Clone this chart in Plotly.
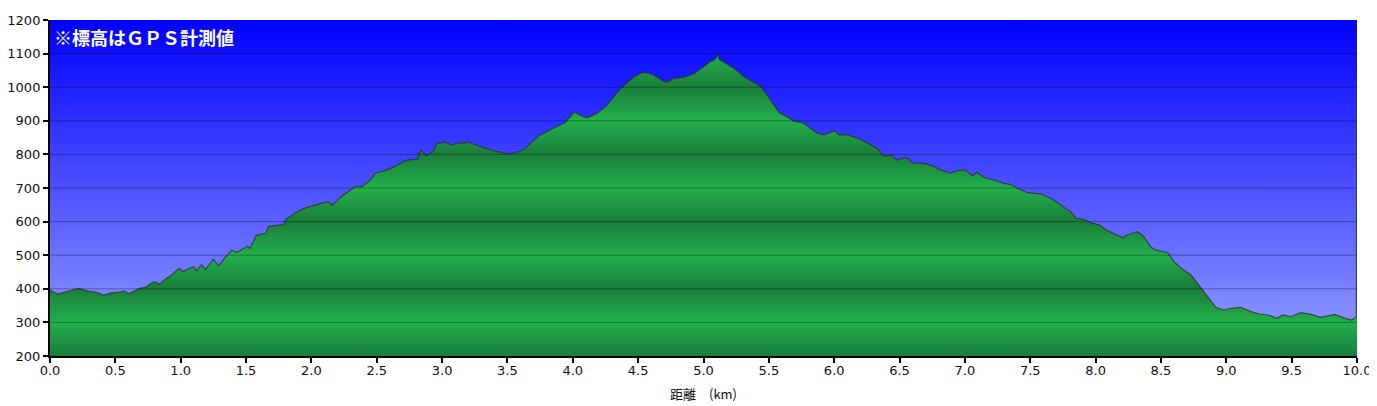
import plotly.graph_objects as go

# elevation profile
distance_km = [
    0.00, 0.06, 0.13, 0.22, 0.29, 0.35, 0.41, 0.47, 0.53, 0.57, 0.60, 0.64, 0.68, 0.73, 0.77, 0.80,
    0.84, 0.88, 0.93, 0.99, 1.02, 1.06, 1.10, 1.12, 1.16, 1.19, 1.25, 1.29, 1.33, 1.39, 1.43, 1.48,
    1.51, 1.53, 1.58, 1.65, 1.67, 1.72, 1.79, 1.80, 1.85, 1.89, 1.95, 2.02, 2.08, 2.13, 2.16, 2.22,
    2.28, 2.335, 2.39, 2.45, 2.49, 2.58, 2.64, 2.73, 2.81, 2.84, 2.88, 2.93, 2.96, 3.02, 3.075, 3.11,
    3.20, 3.27, 3.32, 3.37, 3.445, 3.51, 3.56, 3.62, 3.68, 3.75, 3.82, 3.88, 3.94, 3.98, 4.01, 4.06,
    4.11, 4.185, 4.25, 4.30, 4.36, 4.42, 4.47, 4.53, 4.58, 4.62, 4.66, 4.70, 4.73, 4.77, 4.85, 4.93,
    5.00, 5.05, 5.08, 5.10, 5.105, 5.12, 5.17, 5.245, 5.31, 5.36, 5.41, 5.44, 5.51, 5.58, 5.63, 5.69,
    5.76, 5.82, 5.87, 5.92, 6.00, 6.04, 6.10, 6.18, 6.25, 6.33, 6.38, 6.44, 6.48, 6.55, 6.60, 6.69,
    6.76, 6.81, 6.89, 6.94, 7.00, 7.06, 7.09, 7.16, 7.22, 7.30, 7.36, 7.40, 7.48, 7.58, 7.66, 7.70,
    7.76, 7.81, 7.85, 7.91, 7.96, 8.03, 8.09, 8.16, 8.21, 8.24, 8.32, 8.37, 8.42, 8.46, 8.55, 8.60,
    8.665, 8.73, 8.79, 8.86, 8.92, 8.98, 9.035, 9.11, 9.19, 9.25, 9.32, 9.39, 9.43, 9.49, 9.57, 9.65,
    9.72, 9.83, 9.91, 9.96, 9.995, 10.0,
]
elevation_m = [
    396, 384, 392, 401, 393, 390, 381, 388, 390, 393, 386, 392, 401, 404, 416, 421,
    414, 428, 441, 461, 451, 460, 466, 454, 471, 458, 488, 468, 488, 515, 508, 520,
    527, 520, 560, 565, 585, 588, 592, 605, 618, 629, 640, 649, 655, 659, 649, 672,
    688, 704, 704, 724, 744, 754, 765, 783, 786, 815, 795, 808, 833, 836, 828, 833,
    836, 828, 820, 813, 806, 801, 805, 813, 835, 858, 872, 884, 895, 912, 927, 916,
    909, 922, 942, 965, 994, 1015, 1031, 1044, 1042, 1036, 1025, 1016, 1016, 1026, 1029, 1041,
    1061, 1076, 1081, 1089, 1102, 1083, 1071, 1053, 1031, 1020, 1010, 1002, 964, 924, 914, 899,
    894, 878, 863, 858, 870, 858, 858, 848, 833, 818, 795, 798, 783, 791, 775, 773,
    765, 754, 744, 751, 754, 736, 747, 729, 724, 714, 709, 699, 686, 682, 669, 659,
    644, 629, 610, 607, 597, 590, 573, 560, 552, 560, 570, 555, 525, 515, 508, 481,
    458, 441, 411, 377, 345, 337, 342, 345, 332, 325, 322, 312, 322, 317, 329, 324,
    315, 324, 312, 307, 317, 1200,
]

x_ticks = [i * 0.5 for i in range(21)]
x_labels = [f"{v:.1f}" for v in x_ticks]
y_ticks = list(range(200, 1300, 100))

Y_MIN, Y_MAX = 200, 1200
X_MAX = 10.0

DARK_GREEN = "#1a7d3a"
LIGHT_GREEN = "#23b04c"

# banded green: dark at even hundreds, light at odd hundreds
green_scale = []
for i, v in enumerate(y_ticks):
    green_scale.append([(v - Y_MIN) / (Y_MAX - Y_MIN), DARK_GREEN if i % 2 == 0 else LIGHT_GREEN])

fig = go.Figure()

# sky gradient background
fig.add_trace(go.Scatter(
    x=[0, X_MAX], y=[Y_MAX, Y_MAX], mode="lines", line=dict(width=0),
    fill="tozeroy", hoverinfo="skip", showlegend=False,
    fillgradient=dict(type="vertical", start=Y_MIN, stop=Y_MAX,
                      colorscale=[[0, "#98a2ff"], [1, "#0000ff"]]),
))

fig.add_trace(go.Scatter(
    x=distance_km, y=elevation_m, mode="lines",
    line=dict(color="rgba(45,45,45,0.75)", width=1.2),
    fill="tozeroy", showlegend=False,
    fillgradient=dict(type="vertical", start=Y_MIN, stop=Y_MAX, colorscale=green_scale),
))

for v in y_ticks[1:-1]:
    fig.add_hline(y=v, line=dict(color="rgba(0,0,0,0.32)", width=1), layer="above")

fig.add_annotation(text="<b>※標高はＧＰＳ計測値</b>", xref="paper", yref="paper", x=0, y=1,
                   xanchor="left", yanchor="top", xshift=2, yshift=-2, showarrow=False,
                   font=dict(family="Noto Sans CJK JP", size=18, color="white"))

# page body has an 8px margin, so the figure is sized/margined to land where the original does
fig.update_layout(
    width=1369, height=398,
    margin=dict(l=42, r=20, t=12, b=50),
    paper_bgcolor="white", plot_bgcolor="white",
    font=dict(family="DejaVu Sans", size=13, color="#111111"),
    xaxis=dict(range=[0, X_MAX], tickvals=x_ticks, ticktext=x_labels, showgrid=False,
               zeroline=False, showline=True, linecolor="black", linewidth=2,
               ticks="outside", ticklen=5, tickwidth=2, tickcolor="black", automargin=False,
               ticklabelstandoff=-4,
               title=dict(text="距離　(km)", standoff=13,
                          font=dict(family="Noto Sans CJK JP", size=13))),
    yaxis=dict(range=[Y_MIN, Y_MAX], tickvals=y_ticks, showgrid=False, zeroline=False,
               showline=True, linecolor="black", linewidth=2, automargin=False,
               ticks="outside", ticklen=5, tickwidth=2, tickcolor="black"),
)

fig.write_html("out.html")
